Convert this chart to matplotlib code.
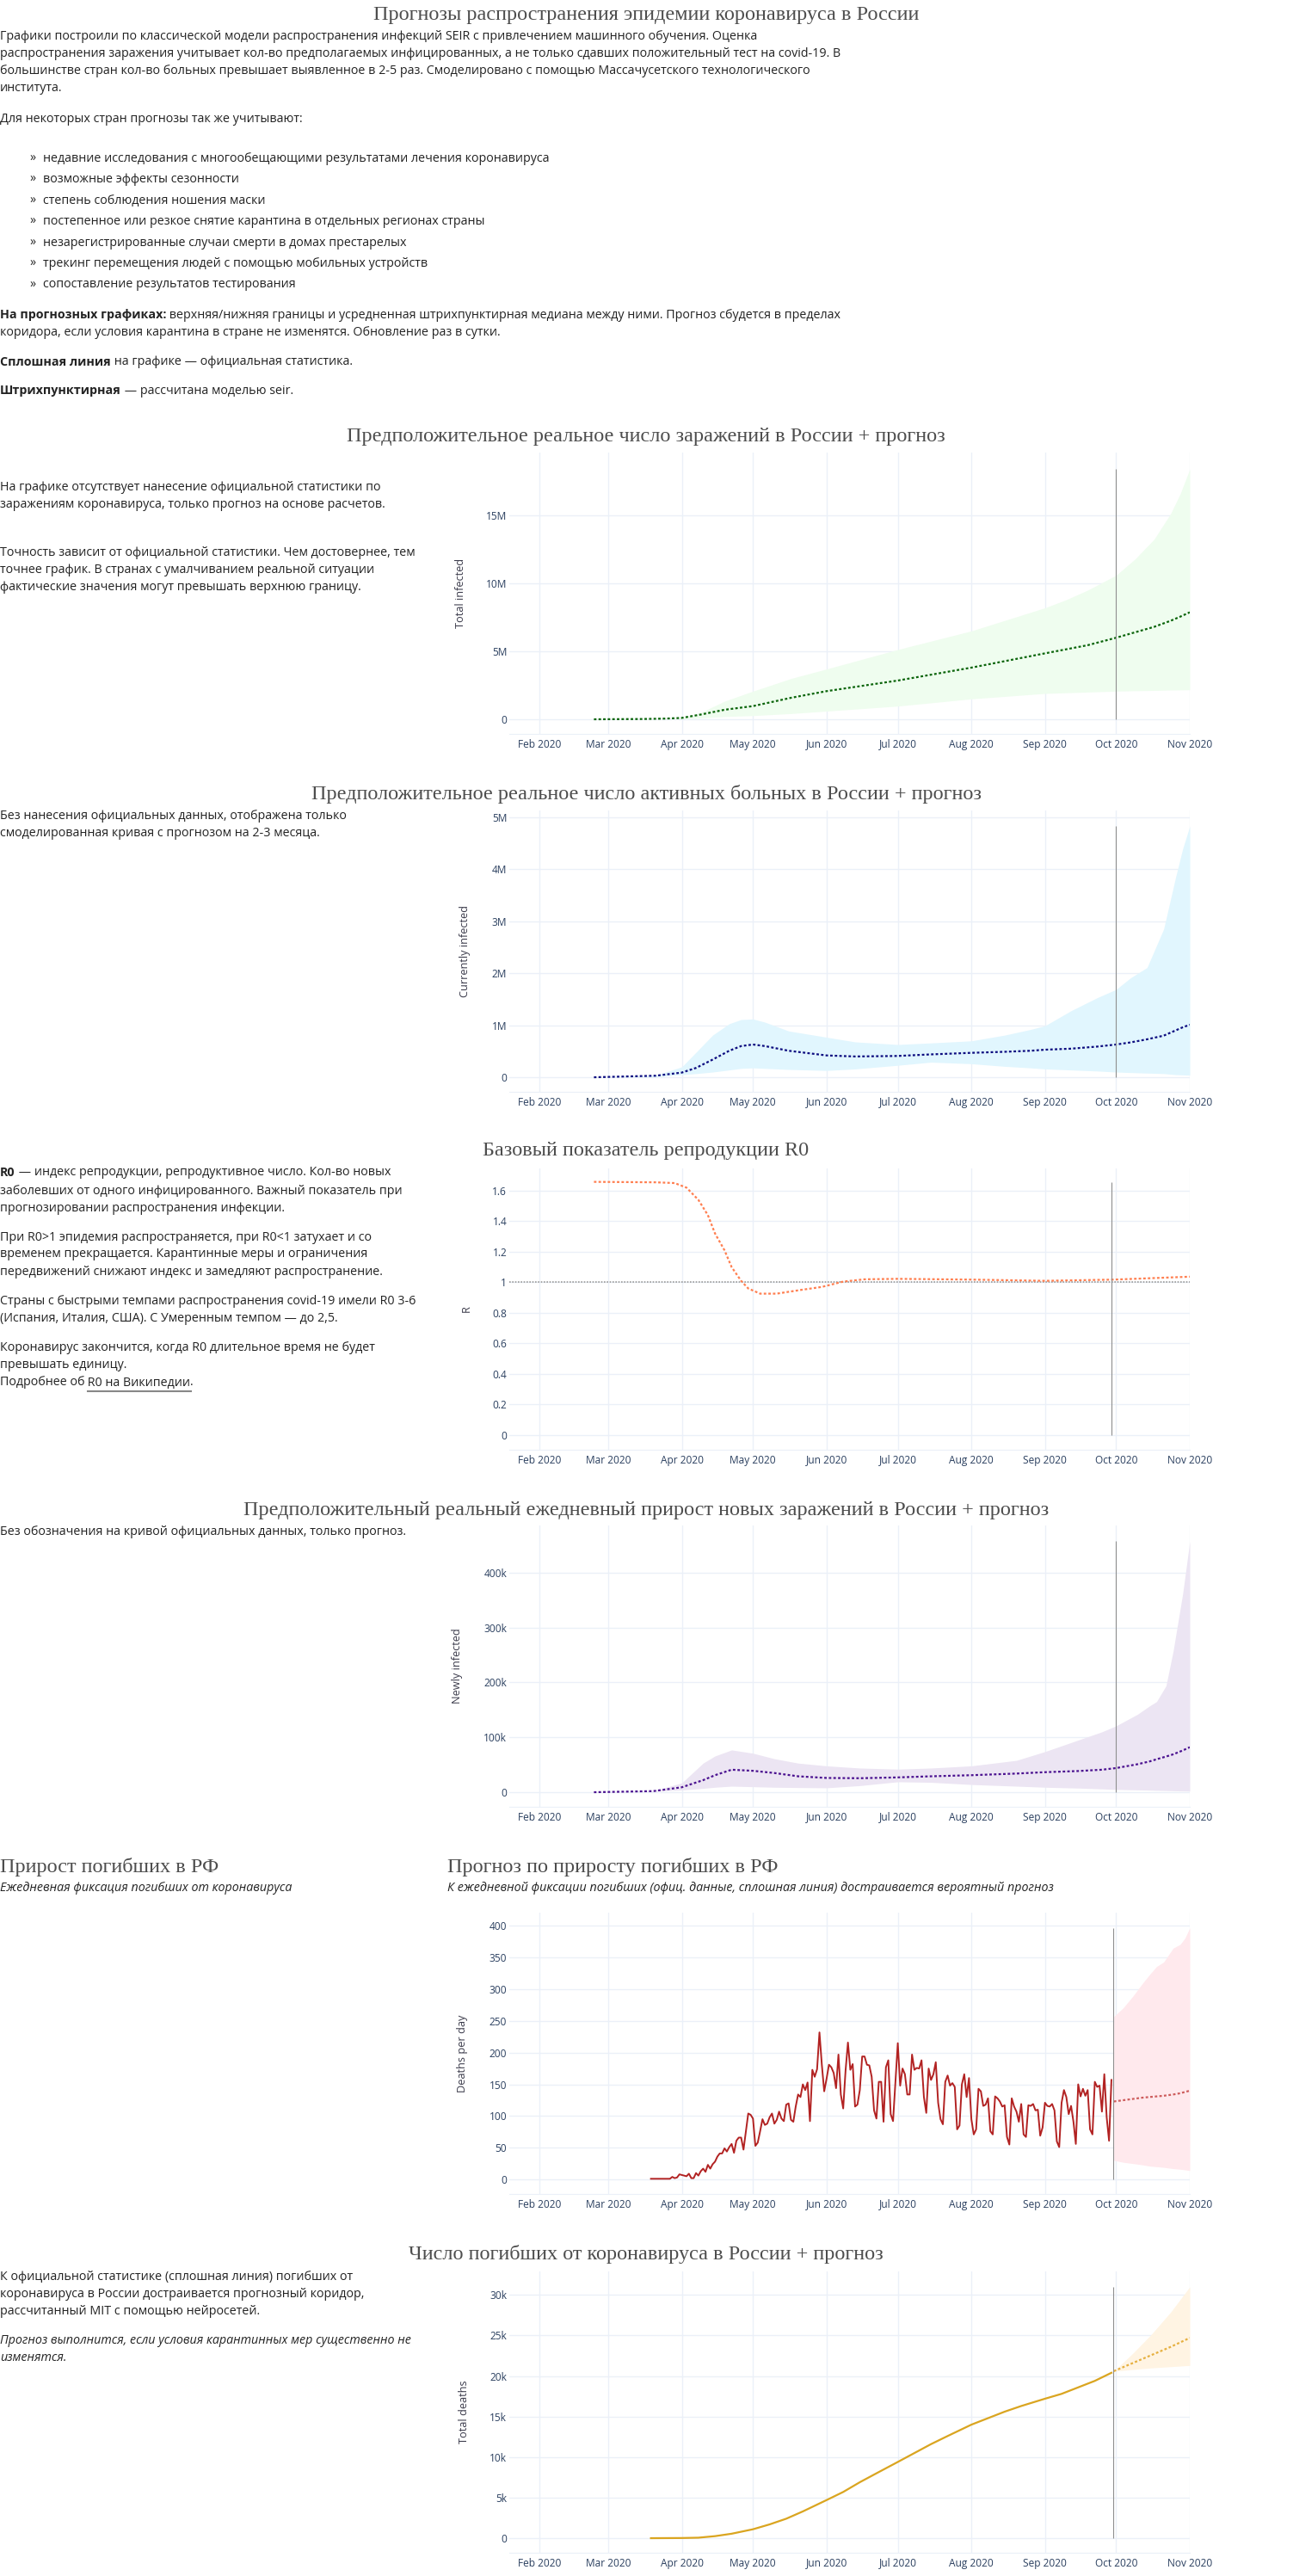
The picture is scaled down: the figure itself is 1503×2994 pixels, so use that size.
import matplotlib
matplotlib.use('Agg')
import matplotlib.pyplot as plt
from matplotlib.lines import Line2D
import pandas as pd

plt.rcParams['font.family'] = ['Open Sans', 'DejaVu Sans']

# ---------------- data ----------------
months = ['2020-02-01', '2020-03-01', '2020-04-01', '2020-05-01', '2020-06-01',
          '2020-07-01', '2020-08-01', '2020-09-01', '2020-10-01', '2020-11-01']

# total infected, millions
ti_dates = ['2020-02-24', '2020-03-15', '2020-03-25', '2020-04-01', '2020-04-09', '2020-04-19',
            '2020-05-01', '2020-05-17', '2020-06-01', '2020-07-01', '2020-08-01', '2020-09-01',
            '2020-09-10', '2020-09-19', '2020-10-01', '2020-10-09', '2020-10-17', '2020-10-24',
            '2020-10-28', '2020-11-01']
ti_median = [0, 0.02, 0.05, 0.1, 0.35, 0.7, 0.97, 1.58, 2.07, 2.85, 3.8, 4.85,
             5.15, 5.45, 6.0, 6.4, 6.8, 7.25, 7.55, 7.87]
ti_upper = [0, 0.02, 0.05, 0.1, 0.5, 1.33, 2.07, 3.0, 3.7, 5.13, 6.5, 8.2,
            8.8, 9.5, 10.6, 11.8, 13.25, 15.15, 16.6, 18.4]
ti_lower = [0, 0.02, 0.03, 0.03, 0.1, 0.2, 0.27, 0.42, 0.6, 0.97, 1.5, 1.9,
            1.95, 2.0, 2.07, 2.1, 2.12, 2.15, 2.16, 2.17]

# currently infected, millions
ci_dates = ['2020-02-24', '2020-03-21', '2020-04-01', '2020-04-07', '2020-04-14', '2020-04-21',
            '2020-04-26', '2020-05-01', '2020-05-06', '2020-05-16', '2020-06-01', '2020-06-13',
            '2020-07-01', '2020-07-15', '2020-08-01', '2020-08-15', '2020-08-26', '2020-09-01',
            '2020-09-12', '2020-09-23', '2020-10-01', '2020-10-07', '2020-10-14', '2020-10-21',
            '2020-10-26', '2020-10-29', '2020-11-01']
ci_median = [0, 0.03, 0.09, 0.18, 0.34, 0.51, 0.6, 0.63, 0.6, 0.51, 0.42, 0.4,
             0.41, 0.44, 0.47, 0.49, 0.51, 0.53, 0.55, 0.59, 0.63, 0.67, 0.73, 0.8,
             0.9, 0.96, 1.01]
ci_upper = [0, 0.04, 0.2, 0.48, 0.81, 1.03, 1.11, 1.12, 1.06, 0.89, 0.77, 0.68,
            0.63, 0.66, 0.7, 0.81, 0.92, 0.99, 1.28, 1.53, 1.69, 1.91, 2.11, 2.85,
            3.84, 4.39, 4.83]
ci_lower = [0, 0.01, 0.05, 0.07, 0.1, 0.14, 0.17, 0.18, 0.17, 0.15, 0.13, 0.16,
            0.23, 0.29, 0.26, 0.21, 0.18, 0.16, 0.14, 0.12, 0.1, 0.09, 0.08, 0.07,
            0.05, 0.045, 0.04]

# R0
r0_dates = ['2020-02-24', '2020-03-21', '2020-03-29', '2020-04-03', '2020-04-08', '2020-04-12',
            '2020-04-15', '2020-04-19', '2020-04-22', '2020-04-26', '2020-04-29', '2020-05-04',
            '2020-05-11', '2020-05-21', '2020-05-30', '2020-06-08', '2020-06-17', '2020-07-01',
            '2020-08-01', '2020-09-01', '2020-09-30', '2020-11-01']
r0_values = [1.658, 1.655, 1.65, 1.62, 1.54, 1.44, 1.32, 1.21, 1.10, 1.01, 0.96, 0.926,
             0.926, 0.95, 0.97, 1.005, 1.02, 1.023, 1.018, 1.01, 1.018, 1.037]

# newly infected, thousands
ni_dates = ['2020-02-24', '2020-03-20', '2020-04-01', '2020-04-10', '2020-04-15', '2020-04-22',
            '2020-05-01', '2020-05-10', '2020-05-20', '2020-06-01', '2020-06-15', '2020-07-01',
            '2020-07-15', '2020-08-01', '2020-08-20', '2020-09-01', '2020-09-15', '2020-09-25',
            '2020-10-01', '2020-10-10', '2020-10-15', '2020-10-18', '2020-10-22', '2020-10-25',
            '2020-10-29', '2020-11-01']
ni_median = [0, 2, 9, 22, 31, 41, 39, 35, 29, 26, 25.5, 27, 29, 31, 34, 36.5, 38.6, 41,
             44, 51, 56, 60, 65, 69, 76, 82]
ni_upper = [0, 2.5, 17, 53, 66, 77, 71, 61, 53, 48, 44, 42, 44, 48, 58, 74, 95, 110,
            121, 142, 157, 165, 194, 257, 361, 457]
ni_lower = [0, 1.5, 4, 7, 9, 11, 10, 9, 8.5, 8, 12, 19, 18, 14, 11, 9, 7.5, 6,
            5, 4.2, 3.8, 3.4, 3, 2.6, 2.2, 2]

# daily deaths (official), from 2020-03-19
deaths_mar = [1, 1, 1, 1, 1, 1, 1, 1, 1, 4, 2, 3, 8]
deaths_apr = [7, 6, 5, 9, 2, 2, 10, 6, 13, 17, 12, 23, 17, 24, 28, 36, 41, 41, 49, 44,
              51, 56, 42, 61, 66, 66, 47, 76, 104, 102]
deaths_may = [96, 53, 58, 76, 95, 86, 88, 98, 104, 88, 94, 107, 96, 92, 118, 120, 94, 91,
              115, 134, 130, 150, 141, 153, 92, 173, 162, 174, 232, 181, 139]
deaths_jun = [159, 181, 177, 168, 144, 197, 134, 112, 172, 216, 173, 182, 115, 118, 141,
              194, 194, 181, 180, 162, 109, 96, 154, 154, 91, 177, 188, 103, 92, 154]
deaths_jul = [215, 148, 175, 166, 134, 134, 197, 173, 176, 175, 188, 130, 105, 175, 157,
              166, 185, 121, 95, 87, 154, 164, 148, 152, 146, 79, 85, 150, 166, 130, 160]
deaths_aug = [95, 71, 79, 143, 139, 116, 118, 128, 76, 71, 131, 128, 123, 115, 117, 67,
              55, 128, 115, 107, 91, 119, 71, 67, 117, 116, 119, 109, 110, 69, 82]
deaths_sep = [121, 116, 115, 119, 109, 60, 51, 121, 141, 130, 103, 116, 91, 56, 150, 131,
              143, 132, 141, 79, 71, 154, 146, 148, 107, 166, 98, 61, 157]
deaths_daily = deaths_mar + deaths_apr + deaths_may + deaths_jun + deaths_jul + deaths_aug + deaths_sep

# daily deaths forecast
dd_fc_dates = ['2020-09-30', '2020-10-04', '2020-10-08', '2020-10-12', '2020-10-15', '2020-10-18',
               '2020-10-21', '2020-10-25', '2020-10-28', '2020-10-30', '2020-11-01']
dd_fc_median = [123, 125, 127, 129, 130, 131, 132, 134, 136, 138, 140]
dd_fc_upper = [257, 271, 289, 309, 323, 336, 343, 365, 371, 381, 397]
dd_fc_lower = [30, 27, 25, 23, 21, 20, 19, 17, 16, 15, 14]

# total deaths (official), thousands
td_dates = ['2020-03-19', '2020-04-01', '2020-04-08', '2020-04-15', '2020-04-22', '2020-05-01',
            '2020-05-08', '2020-05-15', '2020-05-22', '2020-06-01', '2020-06-08', '2020-06-15',
            '2020-06-22', '2020-07-01', '2020-07-08', '2020-07-15', '2020-07-22', '2020-08-01',
            '2020-08-08', '2020-08-15', '2020-08-22', '2020-09-01', '2020-09-08', '2020-09-15',
            '2020-09-22', '2020-09-29']
td_values = [0.001, 0.02, 0.06, 0.25, 0.55, 1.1, 1.7, 2.4, 3.3, 4.7, 5.7, 6.9, 8.0, 9.4,
             10.5, 11.6, 12.6, 14.0, 14.8, 15.6, 16.3, 17.2, 17.8, 18.6, 19.4, 20.4]
td_fc_dates = ['2020-09-30', '2020-10-08', '2020-10-16', '2020-10-24', '2020-11-01']
td_fc_median = [20.6, 21.6, 22.6, 23.6, 24.7]
td_fc_upper = [20.6, 22.8, 25.2, 27.9, 31.0]
td_fc_lower = [20.6, 20.8, 21.0, 21.15, 21.3]

# ---------------- page ----------------
W, H = 1503, 2994
fig = plt.figure(figsize=(W / 100, H / 100), dpi=100)
renderer = fig.canvas.get_renderer()

SERIF = ['Liberation Serif', 'DejaVu Serif']
TXT = '#222222'
TITLE = '#4d4d4d'
GRID = '#ebf0f8'
TICK = '#2a3f5f'
BODY = 10.3


def fx(x):
    return x / W


def fy(y):
    return 1 - y / H


def text_width(s, **kw):
    t = fig.text(0, 0, s + 'x', **kw)
    t2 = fig.text(0, 0, 'x', **kw)
    w = t.get_window_extent(renderer).width - t2.get_window_extent(renderer).width
    t.remove()
    t2.remove()
    return w


def line(x, y, parts, size=BODY, color=TXT):
    # parts: list of (text, weight, style, underline)
    for txt, weight, style, under in parts:
        kw = dict(fontsize=size, color=color, fontweight=weight, fontstyle=style)
        fig.text(fx(x), fy(y), txt, va='center', ha='left', **kw)
        w = text_width(txt, **kw)
        if under:
            lead = text_width(txt[:len(txt) - len(txt.lstrip())], **kw)
            fig.add_artist(Line2D([fx(x + lead), fx(x + w)], [fy(y + 10)] * 2,
                                  color='#888888', lw=1.5))
        x += w


def plain(x, y, s, size=BODY, color=TXT, style='normal'):
    line(x, y, [(s, 'normal', style, False)], size, color)


def title(y, s, x=751, ha='center'):
    fig.text(fx(x), fy(y), s, ha=ha, va='center', family=SERIF, fontsize=17.5, color=TITLE)


# header text block
title(17, 'Прогнозы распространения эпидемии коронавируса в России')
plain(0, 43, 'Графики построили по классической модели распространения инфекций SEIR с привлечением машинного обучения. Оценка')
plain(0, 63, 'распространения заражения учитывает кол-во предполагаемых инфицированных, а не только сдавших положительный тест на covid-19. В')
plain(0, 83, 'большинстве стран кол-во больных превышает выявленное в 2-5 раз. Смоделировано с помощью Массачусетского технологического')
plain(0, 103, 'института.')
plain(0, 138, 'Для некоторых стран прогнозы так же учитывают:')
bullets = ['недавние исследования с многообещающими результатами лечения коронавируса',
           'возможные эффекты сезонности',
           'степень соблюдения ношения маски',
           'постепенное или резкое снятие карантина в отдельных регионах страны',
           'незарегистрированные случаи смерти в домах престарелых',
           'трекинг перемещения людей с помощью мобильных устройств',
           'сопоставление результатов тестирования']
for i, b in enumerate(bullets):
    yy = 184 + i * 24.5
    plain(34, yy, '»')
    plain(50, yy, b)
line(0, 366, [('На прогнозных графиках:', 'bold', 'normal', False),
              (' верхняя/нижняя границы и усредненная штрихпунктирная медиана между ними. Прогноз сбудется в пределах', 'normal', 'normal', False)])
plain(0, 386, 'коридора, если условия карантина в стране не изменятся. Обновление раз в сутки.')
line(0, 421, [('Сплошная линия', 'bold', 'normal', False),
              (' на графике — официальная статистика.', 'normal', 'normal', False)])
line(0, 454, [('Штрихпунктирная', 'bold', 'normal', False),
              (' — рассчитана моделью seir.', 'normal', 'normal', False)])

month_ts = pd.to_datetime(months)
X0, XW, PH = 592, 791, 327


def chart(top, ylim, yticks, ylabels, ylabel, label_x):
    ax = fig.add_axes([fx(X0), fy(top + PH), XW / W, PH / H])
    ax.set_xlim(pd.Timestamp('2020-01-19 08:00'), pd.Timestamp('2020-11-01'))
    ax.set_ylim(*ylim)
    ax.set_xticks(month_ts)
    ax.set_xticklabels([m.strftime('%b %Y') for m in month_ts])
    ax.set_yticks(yticks)
    ax.set_yticklabels(ylabels)
    ax.grid(True, color=GRID, lw=1)
    ax.set_axisbelow(True)
    for s in ['top', 'right', 'left']:
        ax.spines[s].set_visible(False)
    ax.spines['bottom'].set_color(GRID)
    ax.tick_params(length=0, labelsize=8.6, labelcolor=TICK)
    ax.tick_params(axis='x', pad=4)
    ax.tick_params(axis='y', pad=2)
    ax.set_ylabel(ylabel, fontsize=9.2, color='#3a3a4a')
    ax.yaxis.set_label_coords((label_x - X0) / XW, 0.5)
    return ax


def dotted(ax, d, v, color):
    ax.plot(pd.to_datetime(d), v, color=color, lw=1.6, ls=(0, (1.3, 1.1)))


def vline(ax, day, top_value):
    ax.vlines(pd.Timestamp(day), 0, top_value, color='#8f8f8f', lw=0.8, zorder=3)


# chart 1: total infected
title(507, 'Предположительное реальное число заражений в России + прогноз')
plain(0, 567, 'На графике отсутствует нанесение официальной статистики по')
plain(0, 587, 'заражениям коронавируса, только прогноз на основе расчетов.')
plain(0, 642, 'Точность зависит от официальной статистики. Чем достовернее, тем')
plain(0, 662, 'точнее график. В странах с умалчиванием реальной ситуации')
plain(0, 682, 'фактические значения могут превышать верхнюю границу.')
ax1 = chart(526, (-1.076, 19.62), [0, 5, 10, 15], ['0', '5M', '10M', '15M'], 'Total infected', 542)
ax1.fill_between(pd.to_datetime(ti_dates), ti_lower, ti_upper, color='#effdef', lw=0)
dotted(ax1, ti_dates, ti_median, '#0a640a')
vline(ax1, '2020-10-01', max(ti_upper))

# chart 2: currently infected
title(923, 'Предположительное реальное число активных больных в России + прогноз')
plain(0, 948, 'Без нанесения официальных данных, отображена только')
plain(0, 968, 'смоделированная кривая с прогнозом на 2-3 месяца.')
ax2 = chart(942, (-0.28, 5.13), [0, 1, 2, 3, 4, 5], ['0', '1M', '2M', '3M', '4M', '5M'],
            'Currently infected', 547)
ax2.fill_between(pd.to_datetime(ci_dates), ci_lower, ci_upper, color='#e1f6fe', lw=0)
dotted(ax2, ci_dates, ci_median, '#0d0d80')
vline(ax2, '2020-10-01', max(ci_upper))

# chart 3: R0
title(1338, 'Базовый показатель репродукции R0')
line(0, 1363, [('R0', 'bold', 'normal', False),
               (' — индекс репродукции, репродуктивное число. Кол-во новых', 'normal', 'normal', False)])
plain(0, 1384, 'заболевших от одного инфицированного. Важный показатель при')
plain(0, 1404, 'прогнозировании распространения инфекции.')
plain(0, 1438, 'При R0>1 эпидемия распространяется, при R0<1 затухает и со')
plain(0, 1458, 'временем прекращается. Карантинные меры и ограничения')
plain(0, 1478, 'передвижений снижают индекс и замедляют распространение.')
plain(0, 1513, 'Страны с быстрыми темпами распространения covid-19 имели R0 3-6')
plain(0, 1533, '(Испания, Италия, США). С Умеренным темпом — до 2,5.')
plain(0, 1567, 'Коронавирус закончится, когда R0 длительное время не будет')
plain(0, 1587, 'превышать единицу.')
line(0, 1607, [('Подробнее об', 'normal', 'normal', False),
               (' R0 на Википедии', 'normal', 'normal', True),
               ('.', 'normal', 'normal', False)])
r_ticks = [0, 0.2, 0.4, 0.6, 0.8, 1, 1.2, 1.4, 1.6]
ax3 = chart(1358, (-0.096, 1.746), r_ticks, ['0', '0.2', '0.4', '0.6', '0.8', '1', '1.2', '1.4', '1.6'],
            'R', 549)
ax3.axhline(1, color='#9a9a9a', lw=1.2, ls=(0, (1, 1)))
dotted(ax3, r0_dates, r0_values, '#ff7f50')
vline(ax3, '2020-09-29', max(r0_values))

# chart 4: newly infected
title(1755, 'Предположительный реальный ежедневный прирост новых заражений в России + прогноз')
plain(0, 1781, 'Без обозначения на кривой официальных данных, только прогноз.')
ax4 = chart(1773, (-26.6, 486), [0, 100, 200, 300, 400], ['0', '100k', '200k', '300k', '400k'],
            'Newly infected', 538)
ax4.fill_between(pd.to_datetime(ni_dates), ni_lower, ni_upper, color='#ece5f3', lw=0)
dotted(ax4, ni_dates, ni_median, '#4b1290')
vline(ax4, '2020-10-01', max(ni_upper))

# chart 5: deaths per day
title(2170, 'Прирост погибших в РФ', x=0, ha='left')
plain(0, 2195, 'Ежедневная фиксация погибших от коронавируса', style='italic')
title(2170, 'Прогноз по приросту погибших в РФ', x=520, ha='left')
plain(520, 2195, 'К ежедневной фиксации погибших (офиц. данные, сплошная линия) достраивается вероятный прогноз',
      style='italic')
ax5 = chart(2223, (-23, 421), [0, 50, 100, 150, 200, 250, 300, 350, 400],
            ['0', '50', '100', '150', '200', '250', '300', '350', '400'], 'Deaths per day', 544)
ax5.fill_between(pd.to_datetime(dd_fc_dates), dd_fc_lower, dd_fc_upper, color='#ffe9ed', lw=0)
ax5.plot(pd.date_range('2020-03-19', periods=len(deaths_daily)), deaths_daily,
         color='#b22222', lw=1.4)
dotted(ax5, dd_fc_dates, dd_fc_median, '#cd5c5c')
vline(ax5, '2020-09-29 20:00', max(dd_fc_upper))

# chart 6: total deaths
title(2620, 'Число погибших от коронавируса в России + прогноз')
plain(0, 2647, 'К официальной статистике (сплошная линия) погибших от')
plain(0, 2667, 'коронавируса в России достраивается прогнозный коридор,')
plain(0, 2687, 'рассчитанный MIT с помощью нейросетей.')
plain(0, 2721, 'Прогноз выполнится, если условия карантинных мер существенно не', style='italic')
plain(0, 2741, 'изменятся.', style='italic')
ax6 = chart(2640, (-1.8, 32.9), [0, 5, 10, 15, 20, 25, 30],
            ['0', '5k', '10k', '15k', '20k', '25k', '30k'], 'Total deaths', 546)
ax6.fill_between(pd.to_datetime(td_fc_dates), td_fc_lower, td_fc_upper, color='#fff4e3', lw=0)
ax6.plot(pd.to_datetime(td_dates), td_values, color='#daa520', lw=1.6)
dotted(ax6, td_fc_dates, td_fc_median, '#e6b040')
vline(ax6, '2020-09-29 20:00', max(td_fc_upper))

fig.savefig('out.png', dpi=100)
